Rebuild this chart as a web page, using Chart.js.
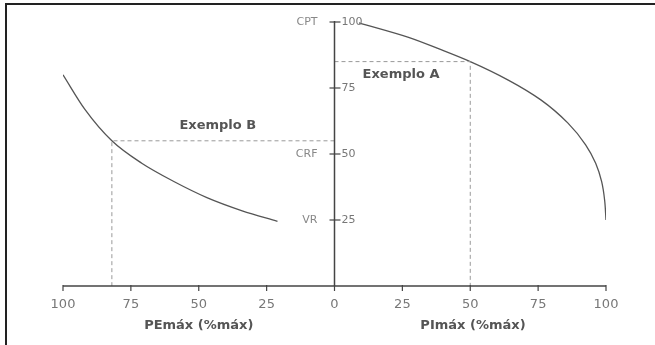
<!DOCTYPE html>
<html>
<head>
<meta charset="utf-8">
<script src="https://cdn.jsdelivr.net/npm/chart.js@4"></script>
<style>
  html, body { margin: 0; padding: 0; background: #fff; }
  #wrap { position: relative; width: 655px; height: 345px; overflow: hidden; }
  #frame { position: absolute; left: 5px; top: 3px; width: 700px; height: 400px;
           border-top: 2px solid #222; border-left: 2px solid #222; pointer-events: none; }
  canvas { position: absolute; left: 0; top: 0; }
</style>
</head>
<body>
<div id="wrap">
  <canvas id="c" width="655" height="345"></canvas>
  <div id="frame"></div>
</div>
<script>
// ---- data ----
// Left curve: PEmáx (% of max) vs lung volume (% CPT)
const pemaxPct    = [100, 92, 82, 71, 59, 47, 34, 21];
const pemaxVolume = [80, 67, 55, 46.5, 39.5, 33.5, 28.5, 24.5];
// Right curve: PImáx (% of max) vs lung volume (% CPT)
const pimaxPct    = [9, 27, 39, 50, 64, 76, 86, 92.5, 96.2, 98.4, 99.5, 100];
const pimaxVolume = [99.7, 94.3, 89.6, 85, 78, 70.5, 61.7, 53.5, 46.5, 39.5, 32.5, 25];
// Worked examples: [pressure %máx, volume %]
const exampleA = [50, 85];   // PImáx
const exampleB = [82, 55];   // PEmáx
// Axis ticks and labels
const xTickValues  = [-100, -75, -50, -25, 0, 25, 50, 75, 100];
const volumeTicks  = [25, 50, 75, 100];
const volumeNames  = ['VR', 'CRF', '', 'CPT'];
const xTitleLeft   = 'PEmáx (%máx)';
const xTitleRight  = 'PImáx (%máx)';
const exampleTextA = 'Exemplo A';
const exampleTextB = 'Exemplo B';

const leftCurve  = pemaxPct.map((v, i) => ({ x: -v, y: pemaxVolume[i] }));
const rightCurve = pimaxPct.map((v, i) => ({ x: v, y: pimaxVolume[i] }));
const dashA = [{ x: 0, y: exampleA[1] }, { x: exampleA[0], y: exampleA[1] }, { x: exampleA[0], y: 0 }];
const dashB = [{ x: 0, y: exampleB[1] }, { x: -exampleB[0], y: exampleB[1] }, { x: -exampleB[0], y: 0 }];

const axesPlugin = {
  id: 'axesPlugin',
  afterDatasetsDraw(chart) {
    const ctx = chart.ctx;
    const xs = chart.scales.x, ys = chart.scales.y;
    const x0 = xs.getPixelForValue(0);
    const yb = ys.getPixelForValue(0);
    ctx.save();
    ctx.strokeStyle = '#444';
    ctx.lineWidth = 1.5;
    // horizontal axis
    ctx.beginPath();
    ctx.moveTo(xs.getPixelForValue(-100), yb);
    ctx.lineTo(xs.getPixelForValue(100), yb);
    ctx.stroke();
    // vertical axis
    ctx.beginPath();
    ctx.moveTo(x0, ys.getPixelForValue(100) - 1);
    ctx.lineTo(x0, yb);
    ctx.stroke();
    // x ticks
    ctx.lineWidth = 1.2;
    ctx.fillStyle = '#777';
    ctx.font = '13px "DejaVu Sans"';
    ctx.textAlign = 'center';
    ctx.textBaseline = 'middle';
    xTickValues.forEach(v => {
      const px = xs.getPixelForValue(v);
      ctx.beginPath();
      ctx.moveTo(px, yb - 1);
      ctx.lineTo(px, yb + 5);
      ctx.stroke();
      ctx.fillText(String(Math.abs(v)), px, yb + 19);
    });
    // y ticks
    ctx.font = '11px "DejaVu Sans"';
    volumeTicks.forEach((v, i) => {
      const py = ys.getPixelForValue(v);
      ctx.beginPath();
      ctx.moveTo(x0 - 5, py);
      ctx.lineTo(x0 + 6, py);
      ctx.stroke();
      ctx.textAlign = 'left';
      ctx.fillStyle = '#777';
      ctx.fillText(String(v), x0 + 7, py + 0.5);
      if (volumeNames[i]) {
        ctx.textAlign = 'right';
        ctx.fillStyle = '#888';
        ctx.fillText(volumeNames[i], x0 - 17, py + 0.5);
      }
    });
    // axis titles
    ctx.font = 'bold 13px "DejaVu Sans"';
    ctx.fillStyle = '#555';
    ctx.textAlign = 'center';
    ctx.fillText(xTitleLeft, xs.getPixelForValue(-50), yb + 40);
    ctx.fillText(xTitleRight, xs.getPixelForValue(51), yb + 40);
    // example labels
    ctx.fillText(exampleTextA, xs.getPixelForValue(24.5), ys.getPixelForValue(80));
    ctx.fillText(exampleTextB, xs.getPixelForValue(-43), ys.getPixelForValue(60.6));
    ctx.restore();
  }
};

new Chart(document.getElementById('c'), {
  type: 'scatter',
  data: {
    datasets: [
      { data: dashA, showLine: true, borderColor: '#999', borderWidth: 1, borderDash: [4, 3], pointRadius: 0, tension: 0 },
      { data: dashB, showLine: true, borderColor: '#999', borderWidth: 1, borderDash: [4, 3], pointRadius: 0, tension: 0 },
      { data: leftCurve, showLine: true, borderColor: '#555', borderWidth: 1.3, pointRadius: 0, cubicInterpolationMode: 'monotone' },
      { data: rightCurve, showLine: true, borderColor: '#555', borderWidth: 1.3, pointRadius: 0, cubicInterpolationMode: 'monotone', indexAxis: 'y' }
    ]
  },
  options: {
    responsive: false,
    animation: false,
    devicePixelRatio: 1,
    layout: { padding: { left: 63, right: 49, top: 22, bottom: 59 } },
    plugins: { legend: { display: false }, tooltip: { enabled: false } },
    scales: {
      x: { type: 'linear', min: -100, max: 100, display: false },
      y: { type: 'linear', min: 0, max: 100, display: false }
    }
  },
  plugins: [axesPlugin]
});
</script>
</body>
</html>
